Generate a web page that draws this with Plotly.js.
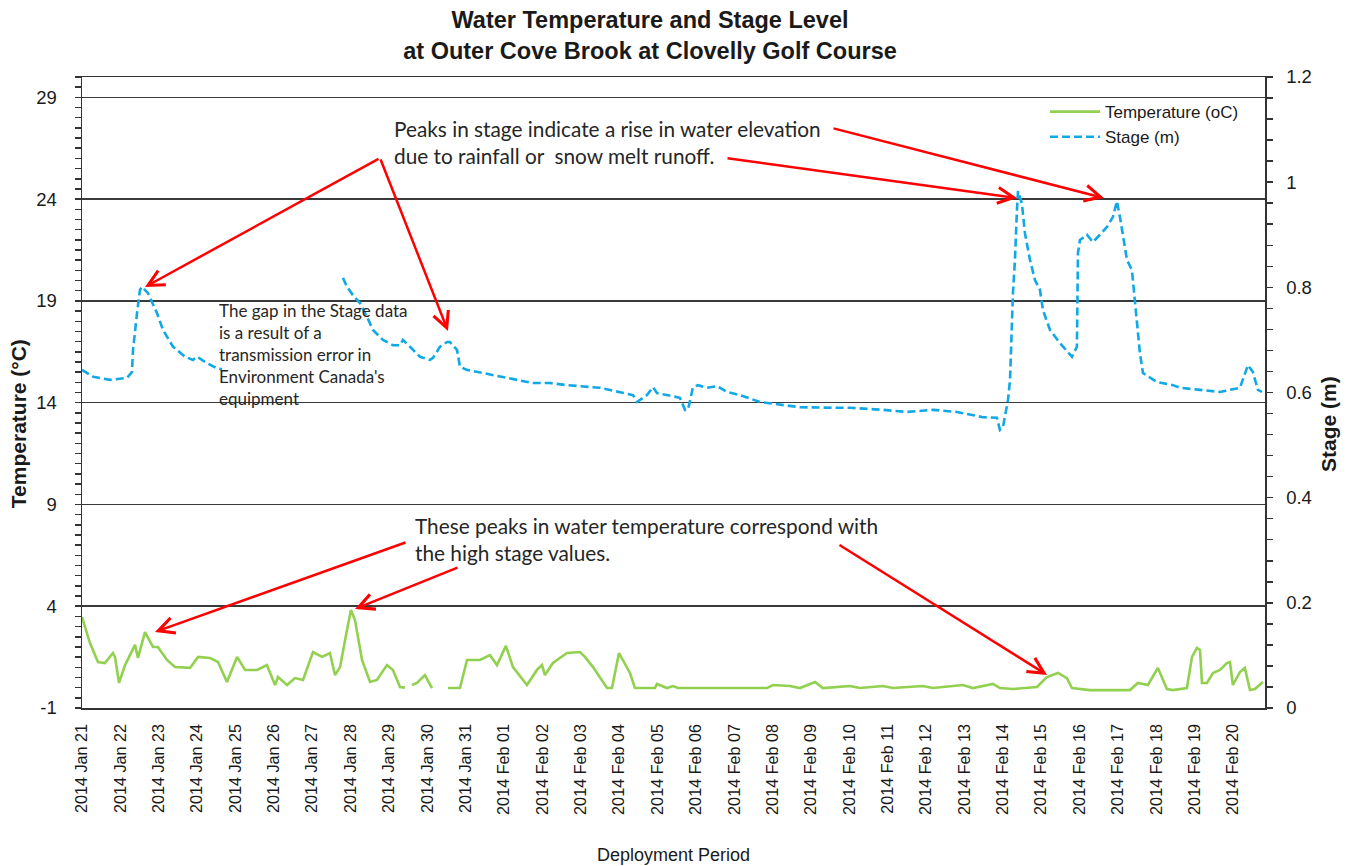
<!DOCTYPE html>
<html>
<head>
<meta charset="utf-8">
<script src="https://cdn.plot.ly/plotly-3.0.1.min.js"></script>
<style>html,body{margin:0;padding:0;background:#fff;}#chart{width:1350px;height:866px;}</style>
</head>
<body>
<div id="chart"></div>
<script>
// ---- Data ----
const tickDates = ['2014-01-21','2014-01-22','2014-01-23','2014-01-24','2014-01-25','2014-01-26','2014-01-27','2014-01-28','2014-01-29','2014-01-30','2014-01-31',
  '2014-02-01','2014-02-02','2014-02-03','2014-02-04','2014-02-05','2014-02-06','2014-02-07','2014-02-08','2014-02-09','2014-02-10',
  '2014-02-11','2014-02-12','2014-02-13','2014-02-14','2014-02-15','2014-02-16','2014-02-17','2014-02-18','2014-02-19','2014-02-20'];
const tickLabels = ['2014 Jan 21','2014 Jan 22','2014 Jan 23','2014 Jan 24','2014 Jan 25','2014 Jan 26','2014 Jan 27','2014 Jan 28','2014 Jan 29','2014 Jan 30','2014 Jan 31',
  '2014 Feb 01','2014 Feb 02','2014 Feb 03','2014 Feb 04','2014 Feb 05','2014 Feb 06','2014 Feb 07','2014 Feb 08','2014 Feb 09','2014 Feb 10',
  '2014 Feb 11','2014 Feb 12','2014 Feb 13','2014 Feb 14','2014 Feb 15','2014 Feb 16','2014 Feb 17','2014 Feb 18','2014 Feb 19','2014 Feb 20'];
const tempTicks = [-1, 4, 9, 14, 19, 24, 29];
const tempTickLabels = ['-1', '4', '9', '14', '19', '24', '29'];

const tempTimes = ['2014-01-21 00:00','2014-01-21 05:00','2014-01-21 10:00','2014-01-21 14:20','2014-01-21 19:20','2014-01-21 20:40','2014-01-21 23:10',
  '2014-01-22 02:55','2014-01-22 09:10','2014-01-22 11:00','2014-01-22 15:25','2014-01-22 20:25','2014-01-22 23:30',
  '2014-01-23 05:10','2014-01-23 10:10','2014-01-23 19:35','2014-01-24 00:35','2014-01-24 08:05','2014-01-24 13:05','2014-01-24 18:40',
  '2014-01-25 01:00','2014-01-25 06:00','2014-01-25 13:30','2014-01-25 19:40','2014-01-26 00:45','2014-01-26 02:35','2014-01-26 08:15',
  '2014-01-26 13:15','2014-01-26 18:15','2014-01-27 00:30','2014-01-27 06:05','2014-01-27 11:05','2014-01-27 14:15','2014-01-27 17:25',
  '2014-01-27 21:45','2014-01-28 00:15','2014-01-28 02:45','2014-01-28 07:10','2014-01-28 12:10','2014-01-28 16:30','2014-01-28 22:45',
  '2014-01-29 02:30','2014-01-29 06:55','2014-01-29 10:00','2014-01-29 11:00','2014-01-29 14:25','2014-01-29 17:30','2014-01-29 22:30',
  '2014-01-30 02:55','2014-01-30 04:00','2014-01-30 12:55','2014-01-30 20:25','2014-01-31 00:50','2014-01-31 08:55','2014-01-31 15:10',
  '2014-01-31 19:35','2014-02-01 01:10','2014-02-01 05:35','2014-02-01 14:20','2014-02-01 20:35','2014-02-01 23:45','2014-02-02 01:35',
  '2014-02-02 06:35','2014-02-02 15:20','2014-02-02 23:30','2014-02-03 02:35','2014-02-03 07:40','2014-02-03 16:25','2014-02-03 19:30',
  '2014-02-03 23:55','2014-02-04 06:45','2014-02-04 09:55','2014-02-04 22:25','2014-02-04 23:40','2014-02-05 05:55','2014-02-05 09:40',
  '2014-02-05 12:50','2014-02-07 20:30','2014-02-08 00:15','2014-02-08 10:50','2014-02-08 17:05','2014-02-09 02:30','2014-02-09 07:30',
  '2014-02-09 20:00','2014-02-10 00:25','2014-02-10 06:40','2014-02-10 21:00','2014-02-11 03:15','2014-02-11 22:00','2014-02-12 04:15',
  '2014-02-12 23:00','2014-02-13 05:20','2014-02-13 17:50','2014-02-13 22:10','2014-02-14 06:20','2014-02-14 21:20','2014-02-15 03:35',
  '2014-02-15 10:30','2014-02-15 16:05','2014-02-15 19:15','2014-02-16 06:30','2014-02-17 07:30','2014-02-17 12:30','2014-02-17 18:45',
  '2014-02-18 01:00','2014-02-18 06:40','2014-02-18 10:25','2014-02-18 19:10','2014-02-18 22:20','2014-02-19 01:25','2014-02-19 03:20',
  '2014-02-19 04:35','2014-02-19 07:40','2014-02-19 11:25','2014-02-19 15:50','2014-02-19 20:10','2014-02-19 22:05','2014-02-19 23:55',
  '2014-02-20 04:20','2014-02-20 07:25','2014-02-20 10:35','2014-02-20 13:40','2014-02-20 18:40'];
const tempValues = [3.47,2.19,1.26,1.21,1.70,1.50,0.23,
  1.11,2.10,1.46,2.73,2.00,2.00,
  1.36,1.01,0.97,1.51,1.46,1.26,0.28,
  1.51,0.87,0.87,1.11,0.13,0.52,0.13,
  0.47,0.38,1.75,1.51,1.70,0.62,1.01,
  2.83,3.81,3.32,1.36,0.28,0.38,1.11,
  0.87,0.03,0.00,null,0.13,0.23,0.62,
  -0.02,null,-0.02,-0.02,1.36,1.36,1.60,
  1.11,2.05,1.01,0.13,0.87,1.11,0.62,
  1.21,1.70,1.75,1.51,1.01,-0.02,-0.02,
  1.70,0.72,-0.02,-0.02,0.18,-0.02,0.08,
  -0.02,-0.02,0.13,0.08,-0.02,0.28,-0.02,
  0.03,0.08,-0.02,0.08,-0.02,0.08,-0.02,
  0.13,-0.02,0.18,-0.02,-0.07,0.03,0.52,
  0.72,0.47,-0.02,-0.12,-0.12,0.23,0.13,
  0.97,-0.07,-0.12,-0.02,1.51,1.95,1.85,
  0.23,0.23,0.72,0.87,1.21,1.26,0.13,
  0.77,0.97,-0.12,-0.07,0.28];

const stageTimes = ['2014-01-21 00:00','2014-01-21 07:00','2014-01-21 17:30','2014-01-22 04:10','2014-01-22 07:15','2014-01-22 07:55',
  '2014-01-22 10:25','2014-01-22 12:15','2014-01-22 13:30','2014-01-22 17:15','2014-01-22 22:55','2014-01-23 02:40','2014-01-23 08:55',
  '2014-01-23 16:25','2014-01-23 21:25','2014-01-24 00:00','2014-01-24 06:10','2014-01-24 12:25','2014-01-24 15:35','2014-01-26 00:00',
  '2014-01-27 19:15','2014-01-27 21:45','2014-01-28 01:30','2014-01-28 05:55','2014-01-28 10:15','2014-01-28 14:00','2014-01-28 20:15',
  '2014-01-29 02:30','2014-01-29 06:55','2014-01-29 08:45','2014-01-29 13:10','2014-01-29 19:25','2014-01-30 01:40','2014-01-30 03:35',
  '2014-01-30 07:55','2014-01-30 12:20','2014-01-30 14:10','2014-01-30 18:35','2014-01-30 20:25','2014-01-31 00:50','2014-01-31 10:50',
  '2014-01-31 21:25','2014-02-01 08:05','2014-02-01 18:05','2014-02-02 04:45','2014-02-02 15:20','2014-02-03 12:00','2014-02-04 08:40',
  '2014-02-04 11:10','2014-02-04 17:25','2014-02-04 21:10','2014-02-04 23:40','2014-02-05 05:55','2014-02-05 14:00','2014-02-05 17:10',
  '2014-02-05 19:05','2014-02-05 22:10','2014-02-06 01:20','2014-02-06 06:55','2014-02-06 13:10','2014-02-06 19:25','2014-02-07 03:35',
  '2014-02-07 16:05','2014-02-08 06:30','2014-02-08 17:05','2014-02-09 13:45','2014-02-10 00:25','2014-02-10 21:00','2014-02-11 12:00',
  '2014-02-12 04:15','2014-02-12 19:20','2014-02-13 11:35','2014-02-13 20:20','2014-02-13 22:10','2014-02-14 00:05','2014-02-14 03:15',
  '2014-02-14 04:30','2014-02-14 06:20','2014-02-14 07:35','2014-02-14 08:50','2014-02-14 09:30','2014-02-14 11:55','2014-02-14 13:50',
  '2014-02-14 17:00','2014-02-14 20:05','2014-02-14 23:15','2014-02-15 01:05','2014-02-15 05:30','2014-02-15 11:45','2014-02-15 19:15',
  '2014-02-15 22:20','2014-02-15 23:00','2014-02-16 00:15','2014-02-16 04:40','2014-02-16 08:20','2014-02-16 12:45','2014-02-16 17:10',
  '2014-02-16 20:55','2014-02-16 23:20','2014-02-17 01:15','2014-02-17 05:40','2014-02-17 08:45','2014-02-17 10:40','2014-02-17 13:45',
  '2014-02-17 15:40','2014-02-18 00:25','2014-02-18 10:25','2014-02-18 14:45','2014-02-19 03:15','2014-02-19 15:50','2014-02-20 04:20',
  '2014-02-20 09:20','2014-02-20 12:25','2014-02-20 15:35','2014-02-20 18:05'];
const stageValues = [0.643,0.630,0.624,0.628,0.639,0.681,
  0.751,0.795,0.801,0.789,0.751,0.719,0.687,
  0.668,0.662,0.668,0.656,0.646,0.644,null,
  0.818,0.801,0.785,0.770,0.744,0.719,0.700,
  0.690,0.690,0.700,0.687,0.668,0.662,0.666,
  0.687,0.696,0.696,0.681,0.649,0.643,0.637,
  0.630,0.624,0.618,0.618,0.614,0.609,0.595,
  0.582,0.595,0.610,0.599,0.595,0.590,0.567,
  0.567,0.610,0.614,0.609,0.612,0.601,0.595,
  0.582,0.576,0.572,0.571,0.571,0.567,0.563,
  0.567,0.563,0.553,0.552,0.529,0.534,0.586,
  0.624,0.789,0.852,0.947,0.983,0.960,0.903,
  0.852,0.814,0.795,0.757,0.719,0.694,0.668,
  0.687,0.865,0.890,0.900,0.886,0.900,0.915,
  0.934,0.964,0.934,0.852,0.833,0.770,0.675,
  0.637,0.620,0.614,0.609,0.605,0.601,0.609,
  0.652,0.639,0.605,0.601];

// ---- Styling ----
const axisColor = '#333333';
const txt = '#1a1a1a';
const sans = 'Liberation Sans, Arial, sans-serif';
const note = 'Lato, Carlito, Calibri, sans-serif';

const traces = [
  {x: tempTimes, y: tempValues, name: 'Temperature (oC)', type: 'scatter', mode: 'lines',
   line: {color: '#92D050', width: 2.6}, connectgaps: false, xaxis: 'x', yaxis: 'y'},
  {x: stageTimes, y: stageValues, name: 'Stage (m)', type: 'scatter', mode: 'lines',
   line: {color: '#10A8E6', width: 2.6, dash: '8px,4px'}, connectgaps: false, xaxis: 'x', yaxis: 'y2'}
];

const xr = ['2014-01-21 00:00', '2014-02-20 20:00'];

function arrow(hx, hy, tx, ty) {
  // positions in page pixels converted to paper fractions of the plot area
  return {xref: 'paper', yref: 'paper', x: (hx - 82) / 1183, y: (708 - hy) / 631,
    ax: tx - hx, ay: ty - hy, text: '', showarrow: true, arrowhead: 5, arrowsize: 1.25,
    arrowwidth: 2.5, arrowcolor: '#FF0000', standoff: 0};
}

const layout = {
  width: 1350, height: 866,
  paper_bgcolor: '#ffffff', plot_bgcolor: '#ffffff',
  margin: {l: 82, r: 85, t: 77, b: 158, pad: 0},
  showlegend: true,
  hovermode: false,
  title: {text: 'Water Temperature and Stage Level<br>at Outer Cove Brook at Clovelly Golf Course',
    font: {family: sans, size: 23.5, color: txt, weight: 'bold'},
    x: 0.4815, xanchor: 'center', xref: 'container', y: 0.9675, yanchor: 'middle', yref: 'container'},
  xaxis: {type: 'date', range: xr, tickmode: 'array', tickvals: tickDates, ticktext: tickLabels,
    tickangle: -90, ticks: '', showgrid: false, zeroline: false, showline: true, mirror: true,
    linecolor: axisColor, linewidth: 1.5, tickfont: {family: sans, size: 16.2, color: txt},
    ticklabelstandoff: 8,
    title: {text: 'Deployment Period', font: {family: sans, size: 18, color: txt}, standoff: 34}},
  xaxis2: {type: 'date', range: xr, overlaying: 'x', anchor: 'y', side: 'bottom',
    tick0: '2014-01-21 00:00', dtick: 72000000, ticks: 'outside', ticklen: 8, tickwidth: 1.5,
    tickcolor: axisColor, showticklabels: false, showgrid: false, zeroline: false, showline: false},
  yaxis: {range: [-1, 30], tickmode: 'array', tickvals: tempTicks, ticktext: tempTickLabels, ticks: 'outside', ticklen: 6,
    tickwidth: 1.5, tickcolor: axisColor, showline: true, linecolor: axisColor, linewidth: 1.5,
    showgrid: true, gridcolor: '#3a3a3a', gridwidth: 1.5, zeroline: false,
    tickfont: {family: sans, size: 18.5, color: txt}, ticklabelstandoff: 14,
    minor: {tick0: -1, dtick: 0.5, ticks: 'outside', ticklen: 6, tickwidth: 1.5, tickcolor: axisColor, showgrid: false}},
  yaxis3: {range: [-1, 30], overlaying: 'y', side: 'left', anchor: 'x', tickmode: 'array', tickvals: tempTicks,
    ticks: 'inside', ticklen: 6, tickwidth: 1.5, tickcolor: axisColor, showticklabels: false,
    showgrid: false, zeroline: false, showline: false,
    minor: {tick0: -1, dtick: 0.5, ticks: 'inside', ticklen: 6, tickwidth: 1.5, tickcolor: axisColor, showgrid: false}},
  yaxis2: {range: [0, 1.2], overlaying: 'y', side: 'right', anchor: 'x', tick0: 0, dtick: 0.2,
    ticks: 'outside', ticklen: 6, tickwidth: 1.5, tickcolor: axisColor, showline: true,
    linecolor: axisColor, linewidth: 1.5, showgrid: false, zeroline: false,
    tickfont: {family: sans, size: 18.5, color: txt}, ticklabelstandoff: 10,
    minor: {tick0: 0, dtick: 0.04, ticks: 'outside', ticklen: 6, tickwidth: 1.5, tickcolor: axisColor, showgrid: false}},
  yaxis4: {range: [0, 1.2], overlaying: 'y', side: 'right', anchor: 'x', tick0: 0, dtick: 0.2,
    ticks: 'inside', ticklen: 6, tickwidth: 1.5, tickcolor: axisColor, showticklabels: false,
    showgrid: false, zeroline: false, showline: false,
    minor: {tick0: 0, dtick: 0.04, ticks: 'inside', ticklen: 6, tickwidth: 1.5, tickcolor: axisColor, showgrid: false}},
  legend: {x: 0.814, y: 0.973, xanchor: 'left', yanchor: 'top', bgcolor: 'rgba(0,0,0,0)',
    font: {family: sans, size: 17, color: txt}, tracegroupgap: 0, itemwidth: 50},
  annotations: [
    {xref: 'paper', yref: 'paper', x: -0.054, y: 0.45, xanchor: 'center', yanchor: 'middle', textangle: -90,
     text: 'Temperature (°C)', showarrow: false, font: {family: sans, size: 21, color: txt, weight: 'bold'}},
    {xref: 'paper', yref: 'paper', x: 1.0 + 63 / 1183, y: 0.45, xanchor: 'center', yanchor: 'middle', textangle: -90,
     text: 'Stage (m)', showarrow: false, font: {family: sans, size: 21, color: txt, weight: 'bold'}},
    {xref: 'paper', yref: 'paper', x: (392 - 82) / 1183, y: (708 - 141.5) / 631, xanchor: 'left', yanchor: 'middle', align: 'left',
     text: 'Peaks in stage indicate a rise in water elevation<br>due to rainfall or  snow melt runoff.', showarrow: false,
     font: {family: note, size: 20.8, color: '#262626'}},
    {xref: 'paper', yref: 'paper', x: (217 - 82) / 1183, y: (708 - 354.5) / 631, xanchor: 'left', yanchor: 'middle', align: 'left',
     text: 'The gap in the Stage data<br>is a result of a<br>transmission error in<br>Environment Canada\'s<br>equipment', showarrow: false,
     font: {family: note, size: 17, color: '#262626'}},
    {xref: 'paper', yref: 'paper', x: (413 - 82) / 1183, y: (708 - 538.5) / 631, xanchor: 'left', yanchor: 'middle', align: 'left',
     text: 'These peaks in water temperature correspond with<br>the high stage values.', showarrow: false,
     font: {family: note, size: 20.8, color: '#262626'}},
    arrow(145, 287, 380, 158),
    arrow(448, 331, 380, 158),
    arrow(1104, 198, 832, 128),
    arrow(1017, 198, 726, 158),
    arrow(155, 632, 407, 542),
    arrow(355, 609, 459, 567),
    arrow(1047, 675, 838, 544)
  ]
};

Plotly.newPlot('chart', traces, layout, {displayModeBar: false, staticPlot: true});
</script>
</body>
</html>
